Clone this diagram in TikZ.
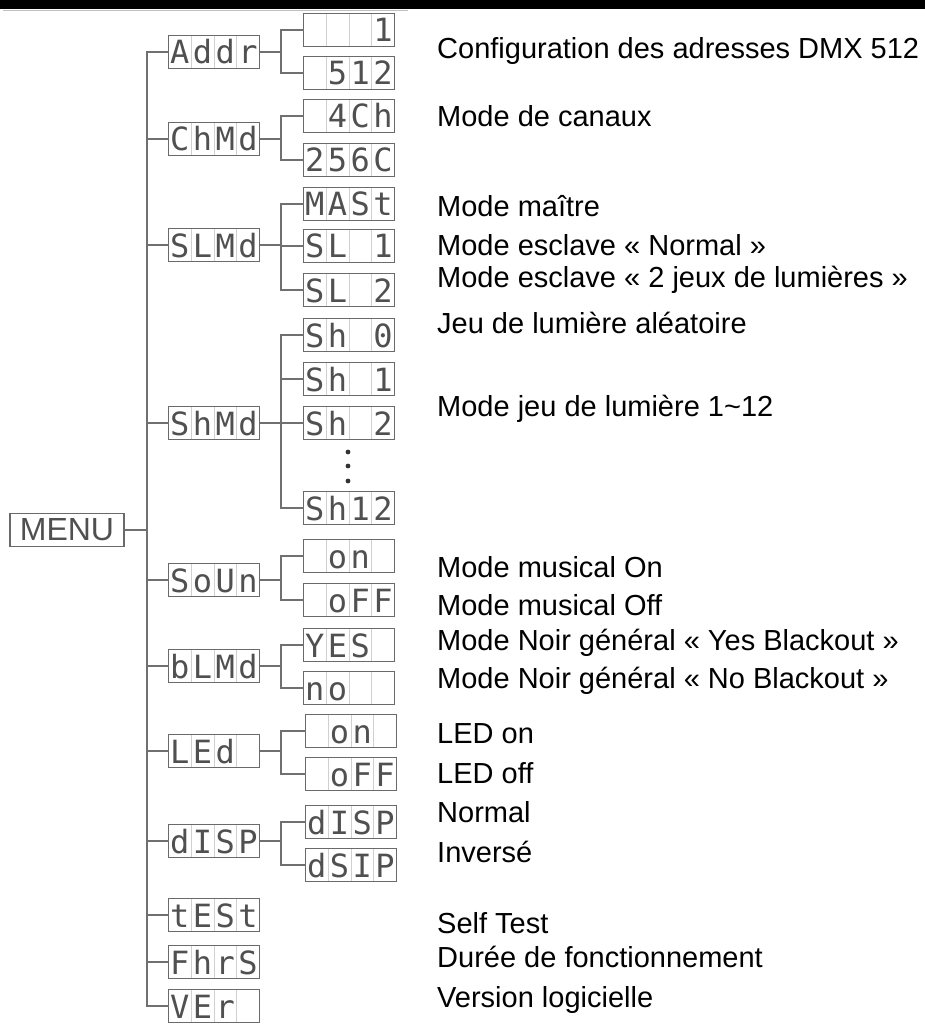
\documentclass[tikz,border=0pt]{standalone}
\usepackage{fontspec}
\setmainfont{Liberation Sans}
\newfontfamily\lcdfont{DejaVu Sans Mono}
\usetikzlibrary{calc}
\definecolor{cwire}{HTML}{707070}
\definecolor{cframe}{HTML}{6A6A6A}
\definecolor{ccell}{HTML}{D0D0D0}
\definecolor{cdigit}{HTML}{505050}
\tikzset{
  every picture/.style={x=1pt, y=-1pt},
  wire/.style={draw=cwire, line width=1.5pt},
  lcd/.style={draw=cframe, line width=1.6pt, minimum width=91pt, minimum height=33pt, inner sep=0pt, outer sep=0pt},
  cell/.style={draw=ccell, line width=0.8pt, shorten <=0.8pt, shorten >=0.8pt},
  digit/.style={font=\lcdfont\fontsize{32}{32}\selectfont, text=cdigit, inner sep=0pt, anchor=base},
  note/.style={font=\fontsize{29}{34}\selectfont, anchor=base west, inner sep=0pt},
}

\begin{document}
\begin{tikzpicture}
  \newcommand{\lcd}[7]{% id, x, y, four cells
    \node[lcd] (#1) at (#2,#3) {};
    \foreach \k in {1,2,3}
      \draw[cell] ($(#1.north west)+(\k*22.75,0)$) -- ($(#1.south west)+(\k*22.75,0)$);
    \foreach \c [count=\k] in {#4,#5,#6,#7}
      \node[digit] at ($(#1.west)+({(\k-0.5)*22.75},12)$) {\c};}
  \newcommand{\branch}[3]{% parent, first and last child
    \draw[wire] (#1.east) -- (#1.east -| fork);
    \draw[wire] (#2.west) -- (#2.west -| fork) -- (#3.west -| fork) -- (#3.west);}
  \useasboundingbox (0,0) rectangle (925,1024);
  \fill[black] (0,0) rectangle (925,9);
  \draw[gray!50, line width=0.8pt] (3,10) -- (408,10);
  \coordinate (trunk) at (147,0);
  \coordinate (fork) at (281,0);
  % menu and first level
  \node[lcd, minimum width=114pt, font=\fontsize{32}{32}\selectfont, text=cdigit] (menu) at (67,530) {MENU};
  \lcd{addr}{214}{52}{A}{d}{d}{r}
  \lcd{chmd}{214}{139}{C}{h}{M}{d}
  \lcd{slmd}{214}{245}{S}{L}{M}{d}
  \lcd{shmd}{214}{423}{S}{h}{M}{d}
  \lcd{soun}{214}{580}{S}{o}{U}{n}
  \lcd{blmd}{214}{666}{b}{L}{M}{d}
  \lcd{led}{214}{751}{L}{E}{d}{}
  \lcd{disp}{214}{841}{d}{I}{S}{P}
  \lcd{test}{214}{915}{t}{E}{S}{t}
  \lcd{fhrs}{214}{962}{F}{h}{r}{S}
  \lcd{ver}{214}{1006}{V}{E}{r}{}
  % second level
  \lcd{a1}{349}{30}{}{}{}{1}
  \lcd{a2}{349}{73}{}{5}{1}{2}
  \lcd{c1}{349}{116}{}{4}{C}{h}
  \lcd{c2}{349}{160}{2}{5}{6}{C}
  \lcd{s1}{349}{204}{M}{A}{S}{t}
  \lcd{s2}{349}{246}{S}{L}{}{1}
  \lcd{s3}{349}{290}{S}{L}{}{2}
  \lcd{h0}{349}{335}{S}{h}{}{0}
  \lcd{h1}{349}{379}{S}{h}{}{1}
  \lcd{h2}{349}{423}{S}{h}{}{2}
  \lcd{h12}{349}{508}{S}{h}{1}{2}
  \lcd{u1}{349}{556}{}{o}{n}{}
  \lcd{u2}{349}{600}{}{o}{F}{F}
  \lcd{b1}{349}{645}{Y}{E}{S}{}
  \lcd{b2}{349}{688}{n}{o}{}{}
  \lcd{l1}{351}{731}{}{o}{n}{}
  \lcd{l2}{351}{774}{}{o}{F}{F}
  \lcd{d1}{351}{822}{d}{I}{S}{P}
  \lcd{d2}{351}{865}{d}{S}{I}{P}
  \foreach \yy in {452,466,481} \fill[black!80] (348,\yy) circle[radius=2.4pt];
  % connectors
  \draw[wire] (menu.east) -- (menu.east -| trunk);
  \draw[wire] (addr.west) -- (addr.west -| trunk) -- (ver.west -| trunk) -- (ver.west);
  \foreach \n in {chmd,slmd,shmd,soun,blmd,led,disp,test,fhrs}
    \draw[wire] (\n.west) -- (\n.west -| trunk);
  \branch{addr}{a1}{a2}
  \branch{chmd}{c1}{c2}
  \branch{slmd}{s1}{s3}
  \branch{shmd}{h0}{h12}
  \branch{soun}{u1}{u2}
  \branch{blmd}{b1}{b2}
  \branch{led}{l1}{l2}
  \branch{disp}{d1}{d2}
  \foreach \n in {s2,h1,h2} \draw[wire] (\n.west) -- (\n.west -| fork);
  % descriptions
  \foreach \yy/\txt [count=\k] in {59/Configuration des adresses DMX 512, 127/Mode de canaux,
      217/Mode maître, 255/Mode esclave « Normal », 287/Mode esclave « 2 jeux de lumières »,
      333/Jeu de lumière aléatoire, 416/Mode jeu de lumière 1\textasciitilde 12,
      577/Mode musical On, 615/Mode musical Off, 650/Mode Noir général « Yes Blackout »,
      688/Mode Noir général « No Blackout », 743/LED on, 783/LED off, 822/Normal,
      862/Inversé, 933/Self Test, 967/Durée de fonctionnement, 1007/Version logicielle}
    \node[note] (note\k) at (437,\yy) {\txt};
\end{tikzpicture}
\end{document}
